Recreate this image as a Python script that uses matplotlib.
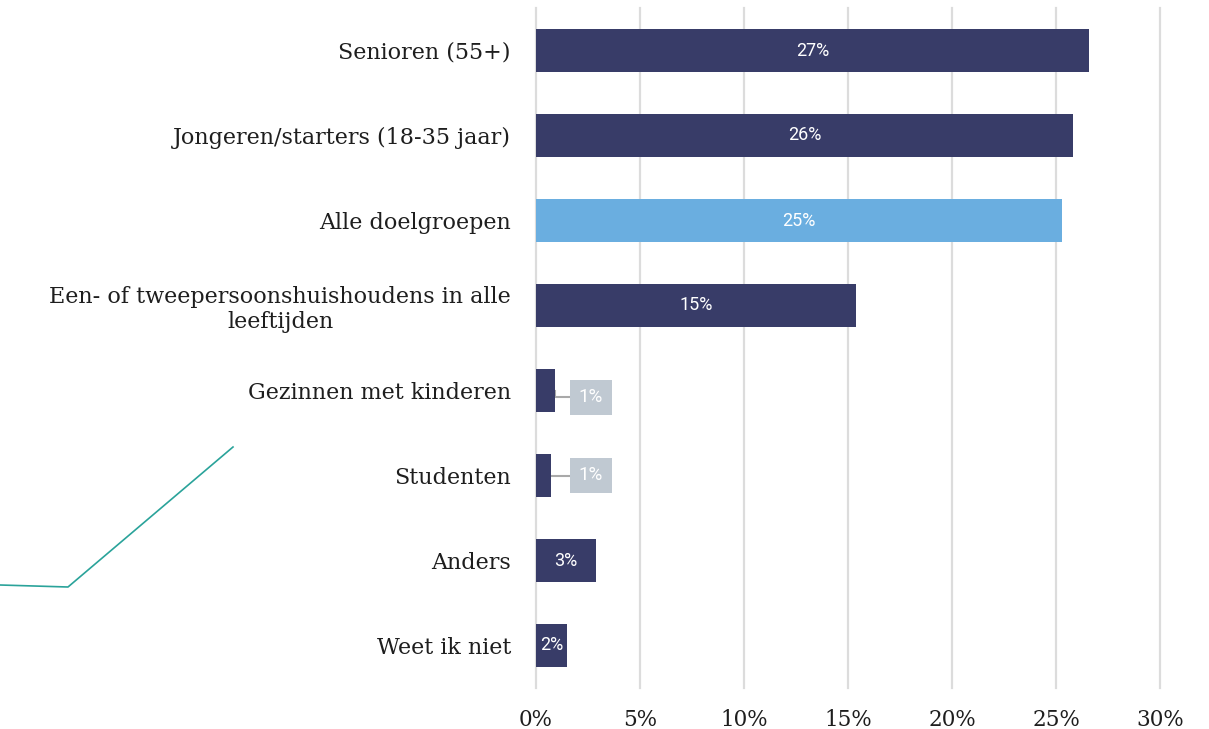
import matplotlib
matplotlib.use("Agg")
import matplotlib.pyplot as plt
from matplotlib.lines import Line2D

# data
categories = [
    "Senioren (55+)",
    "Jongeren/starters (18-35 jaar)",
    "Alle doelgroepen",
    "Een- of tweepersoonshuishoudens in alle\nleeftijden",
    "Gezinnen met kinderen",
    "Studenten",
    "Anders",
    "Weet ik niet",
]
values = [26.6, 25.8, 25.3, 15.4, 0.9, 0.7, 2.9, 1.5]
value_labels = ["27%", "26%", "25%", "15%", "1%", "1%", "3%", "2%"]
highlight = "Alle doelgroepen"
x_ticks = [0, 5, 10, 15, 20, 25, 30]

navy = "#383c68"
light_blue = "#6aaee0"
grid_grey = "#dcdcdc"

fig = plt.figure(figsize=(12.09, 7.29), dpi=100)
ax = fig.add_axes([536 / 1209, 1 - 688 / 729, 624 / 1209, 680 / 729])

colors = [light_blue if c == highlight else navy for c in categories]
ypos = list(range(len(categories)))
ax.barh(ypos, values, height=0.51, color=colors, zorder=3)

small_shift = [0.08, 0.0]  # where the grey callout boxes sit relative to bar centre
k = 0
for y, v, lab in zip(ypos, values, value_labels):
    if v >= 1.3:
        ax.text(v / 2, y, lab, ha="center", va="center", color="white",
                fontsize=13, family="Roboto", zorder=4)
    else:
        # small bars: label in a grey box with a leader line
        dy = small_shift[k]
        k += 1
        ax.plot([v, v, 1.6], [y, y + dy, y + dy], color="#a9a9a9", lw=1.5, zorder=2)
        ax.text(2.64, y + dy, lab, ha="center", va="center", color="white",
                fontsize=13.5, family="Roboto", zorder=4,
                bbox=dict(boxstyle="square,pad=0.45", fc="#c0c9d2", ec="none"))

ax.set_xlim(0, 30)
ax.set_ylim(len(categories) - 0.5, -0.5)
ax.set_xticks(x_ticks)
ax.set_xticklabels([f"{t}%" for t in x_ticks], family="DejaVu Serif", fontsize=15.5)
ax.set_yticks(ypos)
ax.set_yticklabels(categories, family="DejaVu Serif", fontsize=16)
ax.tick_params(axis="both", length=0, colors="#1e1e1e")
ax.tick_params(axis="x", pad=15)
ax.tick_params(axis="y", pad=18)
for lbl in ax.get_yticklabels():
    lbl.set_horizontalalignment("right")
    lbl.set_multialignment("center")

ax.grid(axis="x", color=grid_grey, lw=1.6, zorder=0)
for gl in ax.get_xgridlines():
    gl.set_clip_on(False)
for s in ax.spines.values():
    s.set_visible(False)

# decorative teal line on the left
fig.add_artist(Line2D([0 / 1209, 68 / 1209, 233 / 1209],
                      [1 - 585 / 729, 1 - 587 / 729, 1 - 447 / 729],
                      color="#2aa39a", lw=1.2, transform=fig.transFigure))

fig.savefig("out.png", dpi=100)
